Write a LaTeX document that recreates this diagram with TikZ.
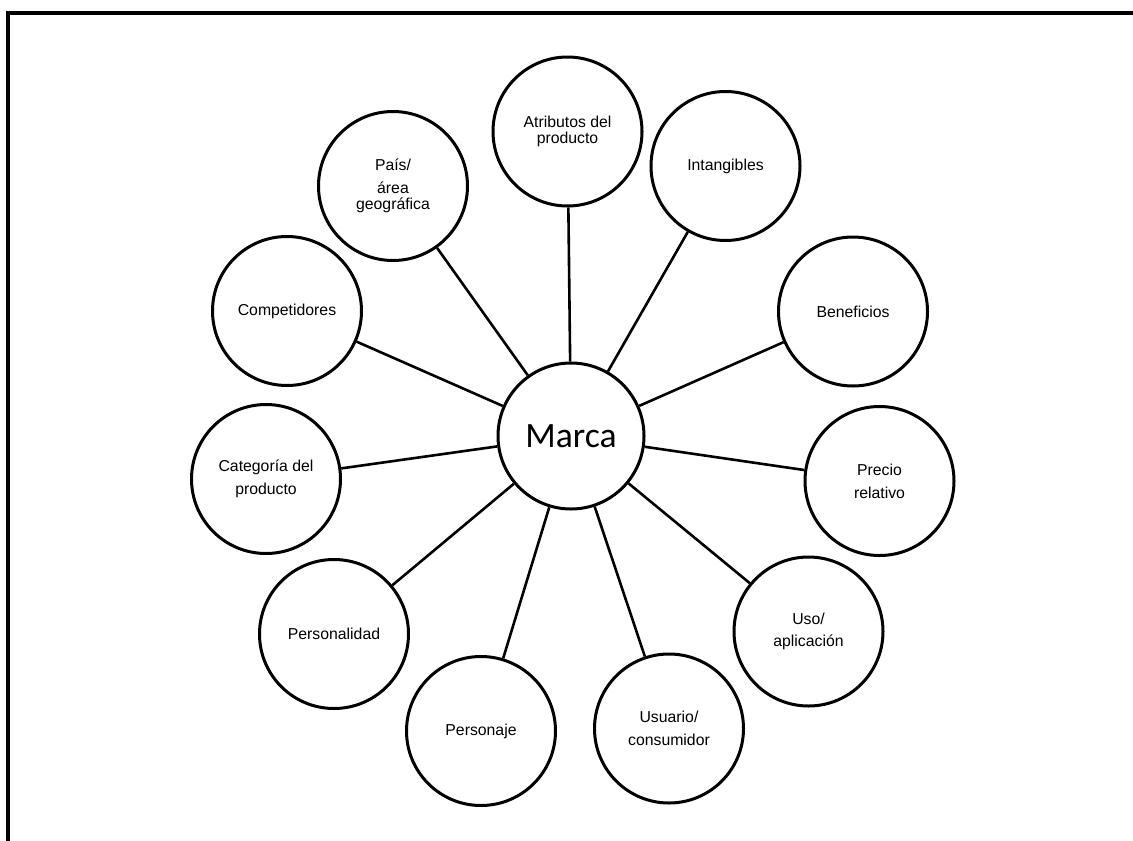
\documentclass[tikz,border=0pt]{standalone}
\usepackage{fontspec}
\setmainfont{Liberation Sans}
\newfontfamily\hubfont{Carlito}
\begin{document}
\begin{tikzpicture}[x=1pt,y=-1pt,
  bubble/.style={circle, draw, line width=3pt, minimum size=149pt, inner sep=0pt,
    align=center, font=\fontsize{15.8}{16.5}\selectfont},
  hub/.style={circle, draw, line width=3pt, minimum size=146pt, inner sep=0pt,
    font=\hubfont\fontsize{35.6}{40}\selectfont},
  spoke/.style={line width=2.6pt}]
\useasboundingbox (0,0) rectangle (1133,841);
% page frame (top and left edges)
\draw[line width=4pt] (8,841) -- (8,13) -- (1133,13);

% central concept
\node[hub] (marca) at (571,436) {Marca};

% surrounding associations
\node[bubble] (atributos)   at (567.5,131.5) {Atributos del\\producto};
\node[bubble] (intangibles) at (725.5,166)   {Intangibles};
\node[bubble] (beneficios)  at (853,311.5)   {Beneficios};
\node[bubble] (precio)      at (879.5,481)   {Precio\\[6.5pt]relativo};
\node[bubble] (uso)         at (808.5,631.5) {Uso/\\[6pt]aplicación};
\node[bubble] (usuario)     at (669,728.5)   {Usuario/\\[6pt]consumidor};
\node[bubble] (personaje)   at (481,731)     {Personaje};
\node[bubble] (personalidad) at (334,634)    {Personalidad};
\node[bubble] (categoria)   at (266,479)     {Categoría del\\[6pt]producto};
\node[bubble] (competidores) at (287,311)    {Competidores};
\node[bubble] (pais)        at (393,186)     {País/\\[6.5pt]área\\geográfica};

% spokes
\foreach \n in {atributos,intangibles,beneficios,precio,uso,usuario,
                personaje,personalidad,categoria,competidores,pais}
  \draw[spoke] (marca) -- (\n);
\end{tikzpicture}
\end{document}
